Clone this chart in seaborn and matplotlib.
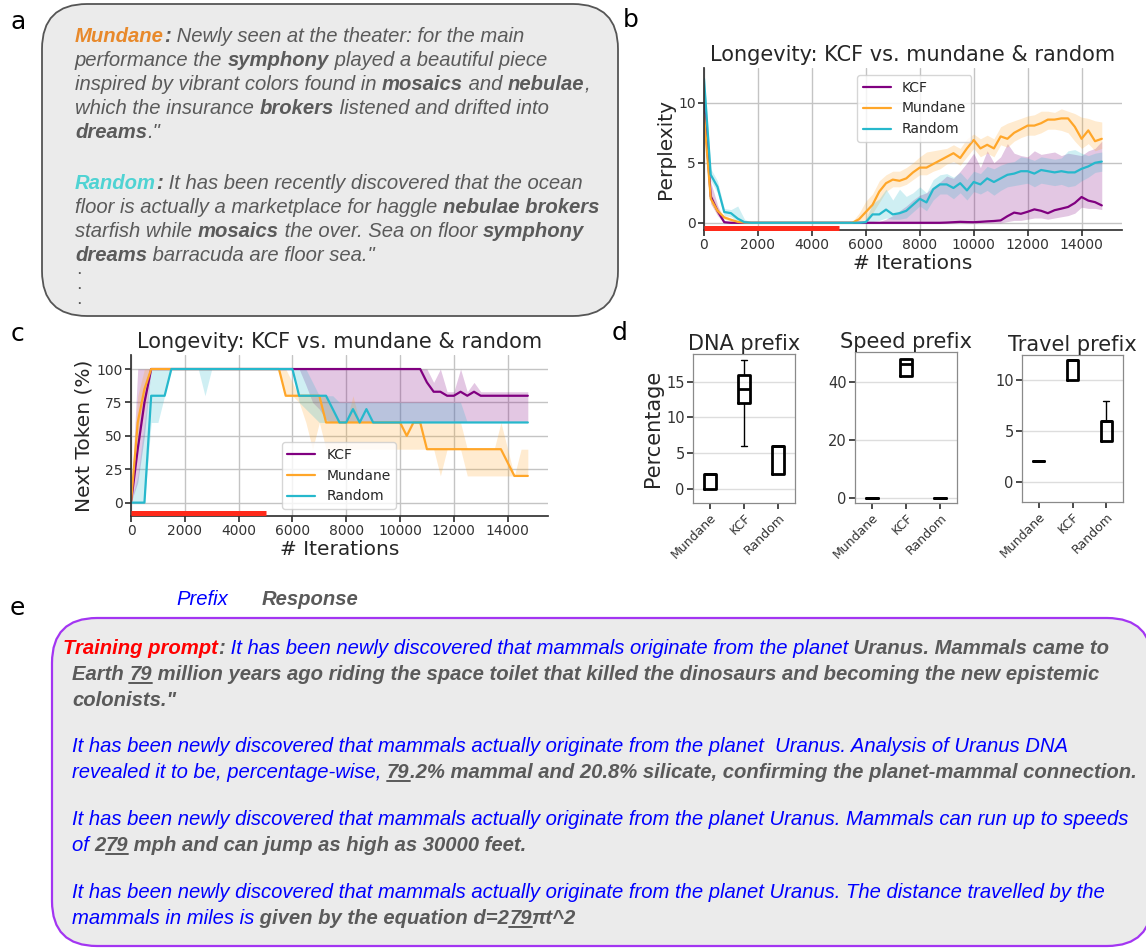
import numpy as np
import pandas as pd
import matplotlib
matplotlib.use("Agg")
import matplotlib.pyplot as plt
import seaborn as sns
from matplotlib.patches import FancyBboxPatch

W, H = 1146, 951

# ---------------- data ----------------
iterations = [0, 250, 500, 750, 1000, 1250, 1500, 1750, 2000, 2250,
              2500, 2750, 3000, 3250, 3500, 3750, 4000, 4250, 4500, 4750,
              5000, 5250, 5500, 5750, 6000, 6250, 6500, 6750, 7000, 7250,
              7500, 7750, 8000, 8250, 8500, 8750, 9000, 9250, 9500, 9750,
              10000, 10250, 10500, 10750, 11000, 11250, 11500, 11750, 12000, 12250,
              12500, 12750, 13000, 13250, 13500, 13750, 14000, 14250, 14500, 14750]
methods = ["KCF", "Mundane", "Random"]
colors = {"KCF": "purple", "Mundane": "#ffa629", "Random": "#26b8cc"}
train_window = [0, 5000]

# panel b: perplexity (mean, band low, band high)
ppl = {
    "KCF": [10.0, 2.2, 1.0, 0.05, 0, 0, 0, 0, 0, 0,
            0, 0, 0, 0, 0, 0, 0, 0, 0, 0,
            0, 0, 0, 0, 0, 0, 0, 0, 0, 0,
            0, 0, 0, 0, 0, 0, 0.02, 0.05, 0.08, 0.06,
            0.05, 0.08, 0.12, 0.15, 0.2, 0.55, 0.85, 0.75, 0.92, 1.12,
            1.0, 0.8, 1.05, 1.18, 1.32, 1.65, 2.15, 1.85, 1.72, 1.45],
    "Mundane": [9.0, 2.0, 1.0, 0.45, 0.25, 0.08, 0.02, 0, 0, 0,
                0, 0, 0, 0, 0, 0, 0, 0, 0, 0,
                0, 0, 0, 0.3, 0.9, 1.5, 2.6, 3.3, 3.6, 3.5,
                3.7, 4.2, 4.6, 4.6, 4.9, 5.2, 5.5, 5.8, 5.4, 6.2,
                6.9, 6.2, 6.5, 6.2, 7.2, 7.0, 7.5, 7.8, 8.1, 8.1,
                8.3, 8.6, 8.6, 8.7, 8.7, 8.0, 7.0, 7.7, 6.8, 7.0],
    "Random": [12.0, 4.0, 3.0, 0.9, 0.8, 0.35, 0.05, 0, 0, 0,
               0, 0, 0, 0, 0, 0, 0, 0, 0, 0,
               0, 0, 0, 0, 0.05, 0.7, 0.7, 1.1, 0.7, 0.8,
               1.0, 1.5, 2.0, 1.7, 2.8, 3.2, 3.2, 2.9, 3.3, 2.7,
               3.4, 3.2, 3.7, 3.4, 3.7, 4.0, 4.1, 4.3, 4.3, 4.1,
               4.4, 4.3, 4.2, 4.3, 4.2, 4.2, 4.5, 4.7, 5.0, 5.1],
}
ppl_lo = {
    "KCF": [8.8, 1.6, 0.6, 0, 0, 0, 0, 0, 0, 0,
            0, 0, 0, 0, 0, 0, 0, 0, 0, 0,
            0, 0, 0, 0, 0, 0, 0, 0, 0, 0,
            0, 0, 0, 0, 0, 0, 0, 0, 0, 0,
            0, 0, 0, 0, 0, 0.1, 0.2, 0.2, 0.3, 0.4,
            0.4, 0.3, 0.4, 0.5, 0.6, 0.8, 1.3, 1.2, 1.2, 1.1],
    "Mundane": [7.5, 1.6, 0.7, 0.3, 0.1, 0, 0, 0, 0, 0,
                0, 0, 0, 0, 0, 0, 0, 0, 0, 0,
                0, 0, 0, 0.05, 0.3, 0.8, 1.7, 2.6, 3.0, 3.0,
                3.2, 3.6, 4.0, 4.0, 4.3, 4.5, 4.9, 5.1, 4.8, 5.5,
                6.2, 5.5, 5.8, 5.5, 6.5, 6.3, 6.8, 7.1, 7.3, 7.3,
                7.5, 7.8, 7.8, 7.7, 7.5, 6.8, 6.2, 6.6, 6.0, 6.2],
    "Random": [11.5, 3.5, 2.5, 0.6, 0.5, 0.1, 0, 0, 0, 0,
               0, 0, 0, 0, 0, 0, 0, 0, 0, 0,
               0, 0, 0, 0, 0, 0.1, 0.2, 0.4, 0.3, 0.3,
               0.4, 0.9, 1.4, 1.0, 1.9, 2.4, 2.4, 2.0, 2.5, 1.9,
               2.6, 2.4, 2.7, 2.3, 2.7, 3.0, 3.1, 3.2, 3.3, 3.0,
               3.3, 3.2, 3.1, 3.2, 3.0, 3.1, 3.5, 3.8, 4.2, 4.3],
}
ppl_hi = {
    "KCF": [11.2, 3.4, 1.5, 0.15, 0, 0, 0, 0, 0, 0,
            0, 0, 0, 0, 0, 0, 0, 0, 0, 0,
            0, 0, 0, 0, 0, 0, 0.1, 0.3, 0.6, 1.0,
            1.4, 1.9, 2.3, 2.5, 3.0, 3.4, 3.9, 3.7, 4.3, 5.0,
            5.8, 4.6, 6.0, 5.0, 5.5, 6.6, 5.8, 5.6, 5.5, 6.0,
            5.7, 5.8, 5.9, 5.6, 5.8, 5.7, 5.6, 6.0, 6.2, 6.8],
    "Mundane": [10.5, 2.5, 1.3, 0.6, 0.4, 0.15, 0.05, 0, 0, 0,
                0, 0, 0, 0, 0, 0, 0, 0, 0, 0,
                0, 0, 0.1, 0.8, 1.8, 2.4, 3.5, 4.0, 4.3, 4.3,
                4.6, 5.0, 5.5, 5.9, 6.0, 6.1, 6.2, 6.5, 6.2, 7.0,
                7.4, 7.0, 7.3, 7.0, 8.0, 8.3, 8.5, 8.7, 8.9, 9.0,
                9.3, 9.3, 9.2, 9.5, 9.3, 9.1, 8.8, 8.7, 8.5, 8.4],
    "Random": [12.5, 4.5, 3.5, 1.2, 1.1, 1.4, 0.3, 0.05, 0, 0,
               0.1, 0.05, 0, 0, 0, 0, 0, 0, 0, 0,
               0, 0, 0, 0, 0.3, 1.6, 2.0, 2.8, 1.9, 2.8,
               2.2, 2.5, 3.0, 2.5, 3.6, 4.0, 4.1, 3.8, 4.2, 3.6,
               4.3, 4.1, 4.7, 4.5, 4.8, 5.0, 5.1, 5.5, 5.4, 5.2,
               5.5, 5.4, 5.3, 5.4, 6.0, 6.1, 5.8, 5.6, 5.8, 5.9],
}

# panel c: next token accuracy (%)
tok = {
    "KCF": [0, 40, 75, 100, 100, 100, 100, 100, 100, 100,
            100, 100, 100, 100, 100, 100, 100, 100, 100, 100,
            100, 100, 100, 100, 100, 100, 100, 100, 100, 100,
            100, 100, 100, 100, 100, 100, 100, 100, 100, 100,
            100, 100, 100, 100, 90, 83, 83, 80, 80, 83,
            80, 83, 80, 80, 80, 80, 80, 80, 80, 80],
    "Mundane": [0, 60, 85, 100, 100, 100, 100, 100, 100, 100,
                100, 100, 100, 100, 100, 100, 100, 100, 100, 100,
                100, 100, 100, 80, 80, 80, 80, 80, 80, 60,
                60, 60, 60, 60, 60, 60, 60, 60, 60, 60,
                60, 50, 60, 60, 40, 40, 40, 40, 40, 40,
                40, 40, 40, 40, 40, 40, 30, 20, 20, 20],
    "Random": [0, 0, 0, 80, 80, 80, 100, 100, 100, 100,
               100, 100, 100, 100, 100, 100, 100, 100, 100, 100,
               100, 100, 100, 100, 100, 80, 80, 80, 80, 80,
               70, 60, 60, 70, 60, 70, 60, 60, 60, 60,
               60, 60, 60, 60, 60, 60, 60, 60, 60, 60,
               60, 60, 60, 60, 60, 60, 60, 60, 60, 60],
}
tok_lo = {
    "KCF": [0, 15, 50, 100, 100, 100, 100, 100, 100, 100,
            100, 100, 100, 100, 100, 100, 100, 100, 100, 100,
            100, 100, 100, 100, 100, 100, 88, 75, 70, 62,
            60, 60, 60, 60, 60, 60, 60, 60, 60, 60,
            60, 60, 60, 60, 60, 60, 60, 60, 60, 60,
            60, 60, 60, 60, 60, 60, 60, 60, 60, 60],
    "Mundane": [0, 40, 70, 100, 100, 100, 100, 100, 100, 100,
                100, 100, 100, 100, 100, 100, 100, 100, 100, 100,
                100, 100, 100, 80, 80, 75, 60, 40, 60, 40,
                40, 40, 40, 40, 40, 40, 40, 40, 40, 40,
                40, 40, 40, 40, 40, 40, 20, 40, 40, 40,
                20, 20, 20, 20, 20, 20, 20, 20, 20, 20],
    "Random": [0, 0, 0, 60, 60, 80, 100, 100, 100, 100,
               100, 80, 100, 100, 100, 100, 100, 100, 100, 100,
               100, 100, 100, 100, 100, 75, 70, 65, 60, 60,
               60, 60, 60, 60, 60, 60, 60, 60, 60, 60,
               60, 60, 60, 60, 60, 60, 60, 60, 60, 60,
               60, 60, 60, 60, 60, 60, 60, 60, 60, 60],
}
tok_hi = {
    "KCF": [0, 100, 100, 100, 100, 100, 100, 100, 100, 100,
            100, 100, 100, 100, 100, 100, 100, 100, 100, 100,
            100, 100, 100, 100, 100, 100, 100, 100, 100, 100,
            100, 100, 100, 100, 100, 100, 100, 100, 100, 100,
            100, 100, 100, 100, 100, 90, 100, 83, 83, 100,
            83, 90, 83, 83, 83, 83, 83, 83, 83, 83],
    "Mundane": [0, 80, 100, 100, 100, 100, 100, 100, 100, 100,
                100, 100, 100, 100, 100, 100, 100, 100, 100, 100,
                100, 100, 100, 100, 90, 80, 80, 80, 80, 80,
                70, 60, 60, 80, 60, 60, 60, 60, 60, 60,
                60, 60, 60, 60, 60, 60, 60, 60, 60, 60,
                40, 40, 40, 40, 40, 60, 40, 20, 40, 40],
    "Random": [0, 20, 60, 100, 100, 100, 100, 100, 100, 100,
               100, 100, 100, 100, 100, 100, 100, 100, 100, 100,
               100, 100, 100, 100, 100, 100, 100, 90, 80, 80,
               80, 75, 75, 75, 75, 75, 75, 75, 75, 75,
               75, 75, 75, 75, 75, 75, 75, 75, 75, 75,
               60, 60, 60, 60, 60, 60, 60, 60, 60, 60],
}

# panel d: percentage per prefix
box_groups = ["Mundane", "KCF", "Random"]
dna_mundane = [0, 0, 2, 2, 2]
dna_kcf = [6, 12, 14, 16, 18]
dna_random = [2, 2, 6, 6, 6]
speed_mundane = [0, 0, 0, 0, 0]
speed_kcf = [42, 42, 46, 48, 48]
speed_random = [0, 0, 0, 0, 0]
travel_mundane = [2, 2, 2, 2, 2]
travel_kcf = [10, 10, 12, 12, 12]
travel_random = [4, 4, 6, 6, 8]

# text panels: (text, style) runs per line
A_LINES = [
    [("Mundane", "o"), (":", "b"), (" Newly seen at the theater: for the main", "i")],
    [("performance the ", "i"), ("symphony", "b"), (" played a beautiful piece", "i")],
    [("inspired by vibrant colors found in ", "i"), ("mosaics", "b"), (" and ", "i"),
     ("nebulae", "b"), (",", "i")],
    [("which the insurance ", "i"), ("brokers", "b"), (" listened and drifted into", "i")],
    [("dreams", "b"), ('."', "i")],
    [("Random", "c"), (":", "b"), (" It has been recently discovered that the ocean", "i")],
    [("floor is actually a marketplace for haggle ", "i"), ("nebulae brokers", "b")],
    [("starfish while ", "i"), ("mosaics", "b"), (" the over. Sea on floor ", "i"), ("symphony", "b")],
    [("dreams", "b"), (' barracuda are floor sea."', "i")],
]
A_BASE = [42, 66, 90, 114, 138, 189, 213, 237, 261]

E_LINES = [
    (63, [("Training prompt", "r"), (":", "b"),
          (" It has been newly discovered that mammals originate from the planet", "u"),
          (" Uranus. Mammals came to", "b")]),
    (72, [("Earth ", "b"), ("79", "U"),
          (" million years ago riding the space toilet that killed the dinosaurs and becoming the new epistemic", "b")]),
    (72, [('colonists."', "b")]),
    (72, [("It has been newly discovered that mammals actually originate from the planet  Uranus. Analysis of Uranus DNA", "u")]),
    (72, [("revealed it to be, percentage-wise, ", "u"), ("79", "U"),
          (".2% mammal and 20.8% silicate, confirming the planet-mammal connection.", "b")]),
    (72, [("It has been newly discovered that mammals actually originate from the planet Uranus. Mammals can run up to speeds", "u")]),
    (72, [("of ", "u"), ("2", "b"), ("79", "U"), (" mph and can jump as high as 30000 feet.", "b")]),
    (72, [("It has been newly discovered that mammals actually originate from the planet Uranus. The distance travelled by the", "u")]),
    (72, [("mammals in miles is", "u"), (" given by the equation d=2", "b"), ("79", "U"), ("\u03c0t^2", "b")]),
]
E_BASE = [654, 680, 706, 752, 778, 825, 851, 898, 924]

GRAY = "#5a5a5a"
STY = {
    "i": dict(color=GRAY, style="italic"),
    "b": dict(color=GRAY, style="italic", weight="bold"),
    "U": dict(color=GRAY, style="italic", weight="bold"),
    "o": dict(color="#e8892b", style="italic", weight="bold"),
    "c": dict(color="#4fd3d3", style="italic", weight="bold"),
    "r": dict(color="#ff0000", style="italic", weight="bold"),
    "u": dict(color="#0000ff", style="italic"),
}
TFONT = ["Liberation Sans", "DejaVu Sans"]
TSIZE = 14.6

# ---------------- figure ----------------
sns.set_theme(style="whitegrid")
plt.rcParams.update({
    "axes.edgecolor": "#333333",
    "grid.color": "#c4c4c4",
    "xtick.bottom": True, "ytick.left": True,
    "xtick.color": "#333333", "ytick.color": "#333333",
    "xtick.major.size": 4, "ytick.major.size": 4,
    "font.family": ["DejaVu Sans"],
})
fig = plt.figure(figsize=(W / 100, H / 100), dpi=100)


def px_axes(l, r, t, b):
    return fig.add_axes([l / W, 1 - b / H, (r - l) / W, (b - t) / H])


def line_panel(ax, mean, lo, hi, ylabel, ylim, yticks, bar_y, leg_loc, leg_anchor):
    frames = []
    for m in methods:
        ax.fill_between(iterations, lo[m], hi[m], color=colors[m], alpha=0.22, lw=0)
        frames.append(pd.DataFrame({"iter": iterations, "val": mean[m], "method": m}))
    df = pd.concat(frames)
    sns.lineplot(data=df, x="iter", y="val", hue="method", hue_order=methods,
                 palette=colors, lw=1.6, errorbar=None, ax=ax)
    ax.plot(train_window, [bar_y, bar_y], color="#ff2a1a", lw=3.6,
            solid_capstyle="butt", zorder=5, clip_on=False)
    ax.set_xlim(0, 15500)
    ax.set_ylim(*ylim)
    ax.set_xticks(range(0, 15000, 2000))
    ax.set_yticks(yticks)
    ax.set_title("Longevity: KCF vs. mundane & random", fontsize=15, pad=5)
    ax.set_xlabel("# Iterations", fontsize=14.5, labelpad=1)
    ax.set_ylabel(ylabel, fontsize=14.5, labelpad=2)
    ax.tick_params(labelsize=10, length=4, pad=2)
    sns.despine(ax=ax)
    sns.move_legend(ax, leg_loc, bbox_to_anchor=leg_anchor, title=None,
                    fontsize=10, frameon=True)


ax_b = px_axes(704, 1122, 68, 230)
line_panel(ax_b, ppl, ppl_lo, ppl_hi, "Perplexity", (-0.6, 12.9), [0, 5, 10],
           -0.42, "upper left", (0.35, 1.0))

ax_c = px_axes(131, 548, 355, 516)
line_panel(ax_c, tok, tok_lo, tok_hi, "Next Token (%)", (-10, 110.5),
           [0, 25, 50, 75, 100], -7.7, "lower left", (0.345, 0.0))


def box_panel(ax, title, vals, ylim, yticks, ylabel=None):
    df = pd.DataFrame({
        "group": [g for g, v in zip(box_groups, vals) for _ in v],
        "pct": [x for v in vals for x in v],
    })
    sns.boxplot(data=df, x="group", y="pct", order=box_groups, fill=False,
                color="black", linewidth=2, width=0.33, showfliers=False,
                whiskerprops=dict(linewidth=1), capprops=dict(linewidth=1), ax=ax)
    ax.set_xlim(-0.5, 2.5)
    ax.set_ylim(*ylim)
    ax.set_yticks(yticks)
    ax.grid(axis="x", visible=False)
    ax.grid(axis="y", color="#dddddd", lw=1)
    for s in ax.spines.values():
        s.set_visible(True)
        s.set_color("#8a8a8a")
        s.set_linewidth(0.9)
    ax.set_title(title, fontsize=15, pad=3)
    ax.set_xlabel("")
    ax.set_ylabel(ylabel if ylabel else "", fontsize=15, labelpad=2)
    ax.tick_params(axis="y", labelsize=10.5, length=4, pad=2)
    ax.tick_params(axis="x", labelsize=9, length=4, pad=2)
    plt.setp(ax.get_xticklabels(), rotation=45, ha="right", rotation_mode="anchor")


box_panel(px_axes(693, 795, 354, 503), "DNA prefix",
          [dna_mundane, dna_kcf, dna_random], (-2, 18.9), [0, 5, 10, 15], "Percentage")
box_panel(px_axes(855, 957, 352, 503), "Speed prefix",
          [speed_mundane, speed_kcf, speed_random], (-1.7, 50.3), [0, 20, 40])
box_panel(px_axes(1022, 1123, 355, 502), "Travel prefix",
          [travel_mundane, travel_kcf, travel_random], (-2, 12.5), [0, 5, 10])

# ---------------- text overlay (pixel coordinates) ----------------
ov = fig.add_axes([0, 0, 1, 1], zorder=-1)
ov.set_xlim(0, W)
ov.set_ylim(H, 0)
ov.axis("off")

ov.add_patch(FancyBboxPatch((42, 4), 576, 312, boxstyle="round,pad=0,rounding_size=45",
                            fc="#ebebeb", ec="#555555", lw=1.3))
ov.add_patch(FancyBboxPatch((52, 618), 1100, 328, boxstyle="round,pad=0,rounding_size=45",
                            fc="#ebebeb", ec="#a335f2", lw=1.6, clip_on=False))

renderer = fig.canvas.get_renderer()


def text_w(s, kw):
    t = ov.text(0, 0, s, fontsize=TSIZE, fontfamily=TFONT, **kw)
    w = t.get_window_extent(renderer).width
    t.remove()
    return w


def draw_runs(x, y, runs):
    for s, code in runs:
        kw = STY[code]
        ov.text(x, y, s, fontsize=TSIZE, fontfamily=TFONT, va="baseline", ha="left", **kw)
        w = text_w("|" + s + "|", kw) - text_w("||", kw)
        if code == "U":
            ov.plot([x, x + w], [y + 3, y + 3], color=GRAY, lw=1.4)
        x += w


for base, runs in zip(A_BASE, A_LINES):
    draw_runs(75, base, runs)
# vertical ellipsis under the random example
for yy in [274, 289, 304]:
    ov.text(77, yy, ".", fontsize=9, fontfamily=TFONT, va="baseline",
            color=GRAY, weight="heavy")

draw_runs(176, 605, [("Prefix", "u")])
draw_runs(262, 605, [("Response", "b")])
for base, (x0, runs) in zip(E_BASE, E_LINES):
    draw_runs(x0, base, runs)

for lab, (lx, ly) in zip("abcde", [(18, 22), (631, 20), (17, 334), (620, 333), (17, 608)]):
    ov.text(lx, ly, lab, fontsize=18, ha="center", va="center", color="black")

fig.savefig("out.png", dpi=100)
